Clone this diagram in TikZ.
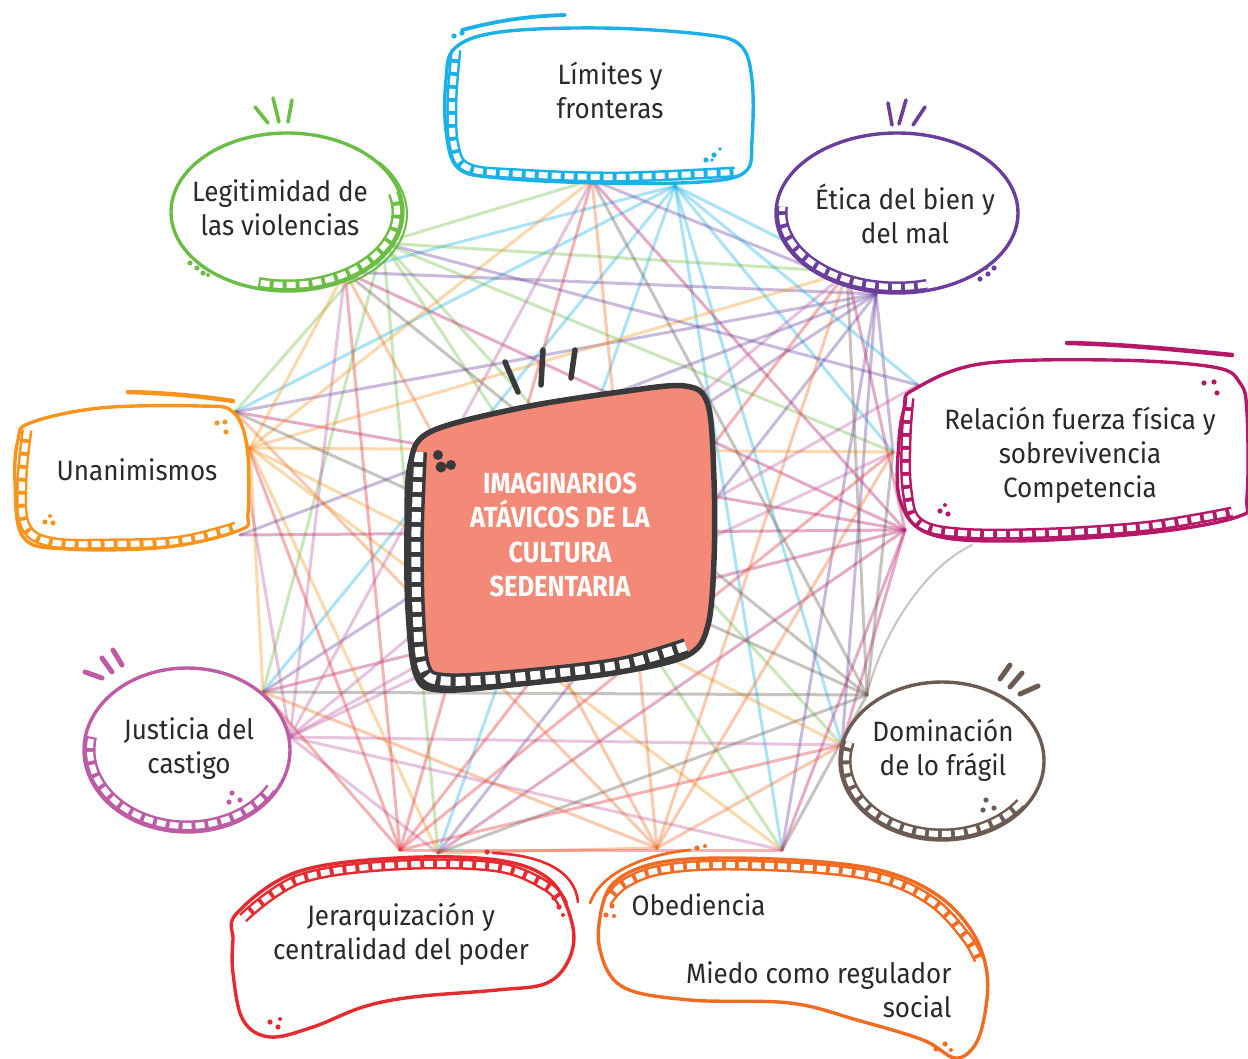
\documentclass[tikz,border=0pt]{standalone}
\usepackage{fontspec}
\setmainfont{Fira Sans}[FakeStretch=0.93]
\newfontfamily\cfont{Fira Sans}[FakeStretch=0.88]
\definecolor{cLim}{HTML}{1BB1E6}
\definecolor{cLeg}{HTML}{6CBD45}
\definecolor{cEti}{HTML}{6A3E9A}
\definecolor{cRel}{HTML}{B51866}
\definecolor{cUna}{HTML}{F7941D}
\definecolor{cJus}{HTML}{BD5CA5}
\definecolor{cJer}{HTML}{E52A30}
\definecolor{cObe}{HTML}{F26B22}
\definecolor{cDom}{HTML}{6C5B53}
\definecolor{salmon}{HTML}{F38A77}
\definecolor{dark}{HTML}{3A3A3C}
\definecolor{txt}{HTML}{2B2A2A}
\tikzset{
  link/.style={line width=3, draw opacity=0.36, line cap=round},
  outl/.style={line width=3.4, line cap=round, line join=round},
  hb/.style={line width=11},
  hw/.style={draw=white, line width=6, dash pattern=on 9pt off 4pt},
  tick/.style={line width=3.6, line cap=round},
  lbl/.style={text=txt, align=center, font=\fontsize{28}{34}\selectfont},
  dot/.style={radius=2.6},
}
\begin{document}
\begin{tikzpicture}[x=1pt,y=-1pt]
\useasboundingbox (0,0) rectangle (1248,1059);
\fill[white] (0,0) rectangle (1248,1059);

% anchor coordinates: S = source, T = target
\coordinate (S1) at (675,186); \coordinate (T1) at (592,180);
\coordinate (S2) at (383,243); \coordinate (T2) at (345,272);
\coordinate (S3) at (876,294); \coordinate (T3) at (847,272);
\coordinate (S4) at (905,530); \coordinate (T4) at (893,452);
\coordinate (S5) at (250,448); \coordinate (T5) at (235,412);
\coordinate (S6) at (290,737); \coordinate (T6) at (263,692);
\coordinate (S7) at (400,850); \coordinate (T7) at (438,853);
\coordinate (S8) at (657,848); \coordinate (T8) at (782,850);
\coordinate (S9) at (867,695); \coordinate (T9) at (842,745);
\coordinate (Rb) at (918,385);
\coordinate (Ub) at (240,535);
\coordinate (Rc) at (972,545);

% connectors
\foreach \i/\c in {1/cLim,2/cLeg,3/cEti,4/cRel,5/cUna,6/cJus,7/cJer,8/cObe,9/cDom}{
  \foreach \j in {1,...,9}{
    \ifnum\i=\j\relax\else
      \draw[link,draw=\c] (S\i) -- (T\j);
    \fi
  }
}
\draw[link,draw=cLim] (S1) -- (Rb);
\draw[link,draw=cEti] (S2) -- (Rb);
\draw[link,draw=cJus] (S6) -- (Rb);
\draw[link,draw=cEti] (S3) -- (Ub);
\draw[link,draw=cRel] (S4) -- (Ub);
\draw[link,draw=cDom,line width=2] (Rc) .. controls (920,570) and (880,640) .. (S9);

% ---------- Limites y fronteras ----------
\def\limpath{plot[smooth cycle,tension=0.6] coordinates {(455,48) (500,32) (600,28) (700,34) (740,45) (752,80) (752,140) (745,172) (700,182) (600,183) (500,178) (458,168) (446,130) (446,80)}}
\fill[white] \limpath;
\draw[hb,cLim] plot[smooth,tension=0.6] coordinates {(456,50) (452,100) (454,145) (468,168) (520,174) (620,177) (735,172)};
\draw[hw] plot[smooth,tension=0.6] coordinates {(456,50) (452,100) (454,145) (468,168) (520,174) (620,177) (735,172)};
\draw[outl,cLim] \limpath;
\draw[outl,cLim,line width=3.8] (462,30) .. controls (500,20) and (530,16) .. (565,15);
\fill[cLim] (454,36) circle[dot] (462,33) circle[dot] (706,160) circle[dot] (714,155) circle[dot] (720,149) circle[radius=1.8] (712,160) circle[radius=1.8];
\node[lbl] (lim) at (610,90) {Límites y\\fronteras};

% ---------- Legitimidad de las violencias ----------
\fill[white] (287,212) ellipse[x radius=116, y radius=79];
\draw[hb,cLeg] (287,212) ++(-15:110 and 73) arc[start angle=-15, end angle=105, x radius=110, y radius=73];
\draw[hw] (287,212) ++(-15:110 and 73) arc[start angle=-15, end angle=105, x radius=110, y radius=73];
\draw[outl,cLeg] (287,212) ellipse[x radius=116, y radius=79];
\draw[outl,cLeg,line width=2] (290,214) ++(-40:117 and 80) arc[start angle=-40, end angle=60, x radius=117, y radius=80];
\draw[tick,cLeg] (255,107) -- (268,123) (273,98) -- (279,122) (292,100) -- (288,122);
\fill[cLeg] (190,263) circle[dot] (197,268) circle[dot] (203,273) circle[dot] (208,275) circle[radius=2];
\node[lbl] (leg) at (280,208) {Legitimidad de\\las violencias};

% ---------- Etica del bien y del mal ----------
\fill[white] (897,213) ellipse[x radius=121, y radius=80];
\draw[hb,cEti] (897,213) ++(75:115 and 74) arc[start angle=75, end angle=185, x radius=115, y radius=74];
\draw[hw] (897,213) ++(75:115 and 74) arc[start angle=75, end angle=185, x radius=115, y radius=74];
\draw[outl,cEti] (897,213) ellipse[x radius=121, y radius=80];
\draw[tick,cEti] (888,103) -- (892,125) (906,100) -- (899,124) (925,107) -- (913,125);
\fill[cEti] (980,279) circle[dot] (988,274) circle[dot] (994,268) circle[dot] (986,268) circle[radius=2];
\node[lbl] (eti) at (905,214) {Ética del bien y\\del mal};

% ---------- Relacion fuerza fisica ----------
\def\relpath{plot[smooth cycle,tension=0.6] coordinates {(913,390) (980,364) (1110,360) (1213,367) (1240,383) (1247,413) (1247,497) (1237,517) (1147,533) (1013,541) (930,534) (900,500) (899,440) (905,405)}}
\fill[white] \relpath;
\draw[hb,cRel] plot[smooth,tension=0.6] coordinates {(909,398) (906,440) (907,490) (918,522) (960,533) (1050,533) (1150,526) (1232,512)};
\draw[hw] plot[smooth,tension=0.6] coordinates {(909,398) (906,440) (907,490) (918,522) (960,533) (1050,533) (1150,526) (1232,512)};
\draw[outl,cRel] \relpath;
\draw[outl,cRel,line width=4.5] (1067,343) .. controls (1120,344) and (1180,350) .. (1232,355);
\fill[cRel] (1204,383) circle[dot] (1214,382) circle[dot] (1217,393) circle[dot] (940,511) circle[dot] (948,514) circle[dot] (945,505) circle[radius=2];
\node[lbl] (rel) at (1080,455) {Relación fuerza física y\\sobrevivencia\\Competencia};

% ---------- Unanimismos ----------
\def\unapath{plot[smooth cycle,tension=0.6] coordinates {(30,423) (100,408) (200,406) (233,412) (247,447) (248,513) (240,530) (167,547) (67,549) (23,537) (15,480) (18,440)}}
\fill[white] \unapath;
\draw[hb,cUna] plot[smooth,tension=0.6] coordinates {(27,430) (22,480) (25,525) (50,542) (110,544) (180,541) (236,527)};
\draw[hw] plot[smooth,tension=0.6] coordinates {(27,430) (22,480) (25,525) (50,542) (110,544) (180,541) (236,527)};
\draw[outl,cUna] \unapath;
\draw[outl,cUna,line width=4.5] (128,392) .. controls (165,393) and (200,396) .. (233,401);
\fill[cUna] (217,423) circle[dot] (225,422) circle[dot] (226,432) circle[dot] (45,522) circle[dot] (53,523) circle[dot] (50,516) circle[radius=2];
\node[lbl] (una) at (137,470) {Unanimismos};

% ---------- Justicia del castigo ----------
\fill[white] (187,750) ellipse[x radius=103, y radius=82];
\draw[hb,cJus] (187,750) ++(30:97 and 76) arc[start angle=30, end angle=190, x radius=97, y radius=76];
\draw[hw] (187,750) ++(30:97 and 76) arc[start angle=30, end angle=190, x radius=97, y radius=76];
\draw[outl,cJus] (187,750) ellipse[x radius=103, y radius=82];
\draw[tick,cJus,line width=5] (85,672) -- (102,678) (102,658) -- (112,672) (113,650) -- (122,665);
\fill[cJus] (232,793) circle[dot] (229,802) circle[dot] (240,800) circle[dot];
\node[lbl] (jus) at (189,749) {Justicia del\\castigo};

% ---------- Dominacion de lo fragil ----------
\fill[white] (942,761) ellipse[x radius=102, y radius=79];
\draw[hb,cDom] (942,761) ++(35:96 and 73) arc[start angle=35, end angle=195, x radius=96, y radius=73];
\draw[hw] (942,761) ++(35:96 and 73) arc[start angle=35, end angle=195, x radius=96, y radius=73];
\draw[outl,cDom] (942,761) ellipse[x radius=102, y radius=79];
\draw[tick,cDom,line width=5] (1000,679) -- (1010,665) (1010,687) -- (1022,673) (1020,694) -- (1038,686);
\fill[cDom] (986,800) circle[dot] (983,810) circle[dot] (994,808) circle[dot];
\node[lbl] (dom) at (943,750) {Dominación\\de lo frágil};

% ---------- Jerarquizacion ----------
\def\jerpath{plot[smooth cycle,tension=0.6] coordinates {(237,913) (297,872) (397,858) (497,860) (550,880) (572,923) (570,957) (547,983) (497,990) (413,997) (363,1007) (313,1027) (270,1037) (243,1020) (233,973) (233,940)}}
\fill[white] \jerpath;
\draw[hb,cJer] plot[smooth,tension=0.6] coordinates {(243,918) (300,879) (397,865) (497,867) (548,887) (563,905)};
\draw[hw] plot[smooth,tension=0.6] coordinates {(243,918) (300,879) (397,865) (497,867) (548,887) (563,905)};
\draw[outl,cJer] \jerpath;
\draw[outl,cJer,line width=2.6] (493,853) .. controls (540,855) and (575,870) .. (578,902);
\fill[cJer] (554,898) circle[dot] (559,907) circle[dot] (563,915) circle[radius=2] (487,852) circle[dot] (270,1022) circle[dot] (278,1027) circle[dot] (280,1019) circle[radius=2];
\node[lbl] (jer) at (401,934) {Jerarquización y\\centralidad del poder};

% ---------- Obediencia / Miedo ----------
\def\obepath{plot[smooth cycle,tension=0.6] coordinates {(617,880) (657,863) (723,858) (823,862) (890,873) (940,897) (973,933) (987,973) (985,1013) (975,1045) (955,1058) (923,1040) (857,1020) (790,1003) (690,1000) (623,987) (600,950) (602,907)}}
\fill[white] \obepath;
\draw[hb,cObe] plot[smooth,tension=0.6] coordinates {(607,902) (624,884) (660,870) (723,865) (823,869) (888,880) (934,903) (966,937) (979,960)};
\draw[hw] plot[smooth,tension=0.6] coordinates {(607,902) (624,884) (660,870) (723,865) (823,869) (888,880) (934,903) (966,937) (979,960)};
\draw[outl,cObe] \obepath;
\draw[outl,cObe,line width=2.8] (590,903) .. controls (600,875) and (640,855) .. (690,850);
\fill[cObe] (697,848) circle[dot] (705,846) circle[radius=2] (612,906) circle[dot] (606,915) circle[dot] (614,916) circle[radius=2] (936,1049) circle[dot] (945,1044) circle[dot] (951,1050) circle[radius=2];
\node[lbl, anchor=west] (obe) at (628,905) {Obediencia};
\node[lbl, align=right, anchor=east] (mie) at (955,990) {Miedo como regulador\\social};

% ---------- Central box ----------
\def\cenpath{plot[smooth cycle,tension=0.55] coordinates {(430,432) (520,408) (620,392) (685,386) (708,405) (714,480) (714,560) (708,625) (688,655) (620,672) (520,684) (440,690) (416,675) (408,610) (407,530) (410,465)}}
\fill[salmon] \cenpath;
\draw[dark,line width=16] plot[smooth,tension=0.55] coordinates {(419,452) (416,530) (417,610) (423,668) (445,681) (520,677) (620,665) (686,646)};
\draw[hw,line width=9,dash pattern=on 10pt off 5pt] plot[smooth,tension=0.55] coordinates {(419,452) (416,530) (417,610) (423,668) (445,681) (520,677) (620,665) (686,646)};
\draw[dark,line width=5.5,line join=round] \cenpath;
\draw[tick,dark,line width=5.5] (505,362) -- (518,392) (543,350) -- (541,385) (575,350) -- (571,378);
\fill[dark] (438,455) circle[radius=5] (441,467) circle[radius=5.5] (451,465) circle[radius=5];
\node[align=center, text=white, font=\cfont\bfseries\fontsize{29}{34.5}\selectfont] (cen) at (560,535) {IMAGINARIOS\\ATÁVICOS DE LA\\CULTURA\\SEDENTARIA};
\end{tikzpicture}
\end{document}
